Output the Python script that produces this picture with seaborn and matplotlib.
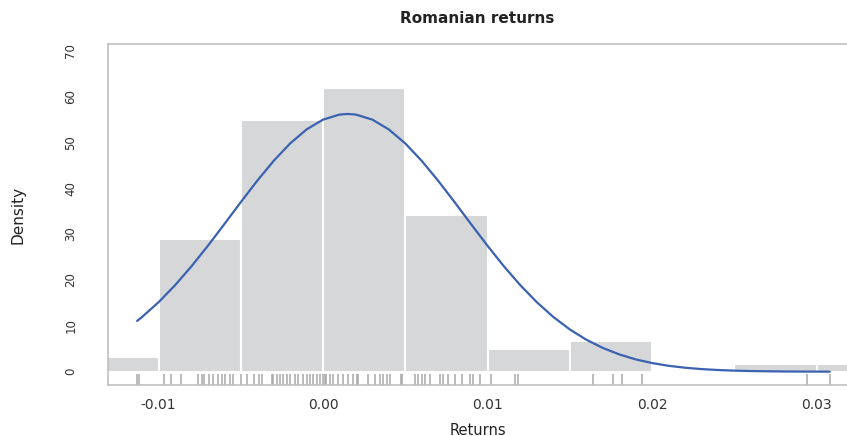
import numpy as np
import pandas as pd
import matplotlib
matplotlib.use("Agg")
import matplotlib.pyplot as plt
import seaborn as sns

# histogram (density scale), bin width 0.005
bin_edges = [-0.015, -0.010, -0.005, 0.000, 0.005, 0.010, 0.015, 0.020, 0.025, 0.030, 0.035]
bin_heights = [3.3, 29.0, 54.8, 61.8, 34.2, 5.0, 6.8, 0.0, 1.6, 1.6]

# fitted curve
curve_x = [-0.0113, -0.011, -0.010, -0.009, -0.008, -0.007, -0.006, -0.005, -0.004,
           -0.003, -0.002, -0.001, 0.000, 0.001, 0.0015, 0.002, 0.003, 0.004, 0.005,
           0.006, 0.007, 0.008, 0.009, 0.010, 0.011, 0.012, 0.013, 0.014, 0.015,
           0.016, 0.017, 0.018, 0.019, 0.020, 0.021, 0.022, 0.023, 0.024, 0.025,
           0.026, 0.027, 0.028, 0.029, 0.030, 0.0308]
curve_y = [11.07, 11.93, 15.14, 18.83, 22.96, 27.45, 32.17, 36.96, 41.63,
           45.97, 49.77, 52.82, 54.96, 56.06, 56.2, 56.06, 54.96, 52.82, 49.77,
           45.97, 41.63, 36.96, 32.17, 27.45, 22.96, 18.83, 15.14, 11.93, 9.22,
           6.98, 5.19, 3.78, 2.69, 1.89, 1.29, 0.87, 0.57, 0.37, 0.23,
           0.14, 0.09, 0.05, 0.03, 0.02, 0.01]

# individual returns (rug)
returns = [-0.0113, -0.0112, -0.00967, -0.00924, -0.00863, -0.0076, -0.00736, -0.00723,
           -0.00693, -0.00669, -0.00638, -0.00614, -0.00596, -0.00565, -0.00547,
           -0.0050, -0.00464, -0.0042, -0.00389, -0.00373, -0.00312, -0.00302, -0.00281,
           -0.00261, -0.00241, -0.00221, -0.00201, -0.0017, -0.0015, -0.0012, -0.0010,
           -0.00079, -0.00059, -0.00038, -0.00018, 0.0, 0.0001, 0.0002, 0.00043, 0.00063,
           0.00093, 0.00123, 0.00154, 0.00184, 0.00205, 0.00215, 0.00275, 0.00316,
           0.00347, 0.00367, 0.00387, 0.00407, 0.00476, 0.0048, 0.00559, 0.00579,
           0.0060, 0.0062, 0.0065, 0.00711, 0.00731, 0.00762, 0.00802, 0.00843,
           0.00894, 0.00914, 0.00954, 0.01021, 0.01167, 0.01187, 0.01643, 0.01761,
           0.01816, 0.01937, 0.0294, 0.03082]

xticks = [-0.01, 0.00, 0.01, 0.02, 0.03]
xticklabels = ["-0.01", "0.00", "0.01", "0.02", "0.03"]
yticks = [0, 10, 20, 30, 40, 50, 60, 70]

sns.set_style("white")
plt.rcParams['font.family'] = ['DejaVu Sans']

bin_mids = [(a + b) / 2 for a, b in zip(bin_edges[:-1], bin_edges[1:])]
hist_df = pd.DataFrame({"mid": bin_mids, "h": bin_heights})

fig = plt.figure(figsize=(8.47, 4.36), dpi=100)
ax = fig.add_axes([108 / 847, 1 - 385 / 436, 1 - 108 / 847, (385 - 44) / 436])

sns.histplot(data=hist_df, x="mid", weights="h", bins=bin_edges, stat="count",
             color="#d6d7d9", edgecolor="white", linewidth=1.5, alpha=1, ax=ax)
sns.lineplot(x=curve_x, y=curve_y, color="#3a62b0", linewidth=1.6, ax=ax)
sns.rugplot(x=returns, height=0.032, color="#a8a8a8", linewidth=1.1, ax=ax)

ax.set_xlim(-0.01307, 0.03185)
ax.set_ylim(-2.9, 71.45)

ax.set_xticks(xticks)
ax.set_xticklabels(xticklabels, fontsize=10, color="#333333")
ax.set_yticks(yticks)
ax.set_yticklabels([str(v) for v in yticks], fontsize=8.5, color="#333333",
                   rotation=90, va="center", family=['Liberation Sans Narrow', 'DejaVu Sans'])
ax.tick_params(axis="x", length=5, width=1, color="#b0b0b0", pad=4, direction="out")
ax.tick_params(axis="y", length=9, width=1, color="#b0b0b0", pad=13, direction="out")

for side in ["left", "top", "bottom"]:
    ax.spines[side].set_visible(True)
    ax.spines[side].set_color("#c0c0c0")
    ax.spines[side].set_linewidth(1.2)
ax.spines["right"].set_visible(False)

ax.set_title("Romanian returns", fontsize=11, fontweight="bold", color="#222222", pad=15)
ax.set_xlabel("Returns", fontsize=10.5, color="#222222", labelpad=8)
ax.set_ylabel("Density", fontsize=11, color="#222222", labelpad=28,
              family=['Liberation Sans Narrow', 'DejaVu Sans'])

fig.savefig("out.png", dpi=100)
